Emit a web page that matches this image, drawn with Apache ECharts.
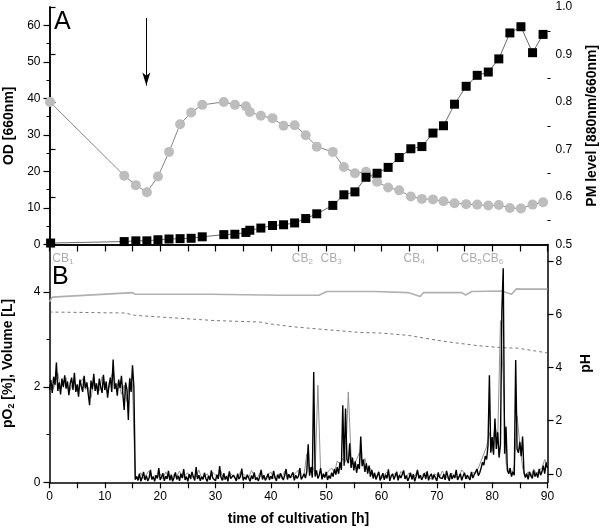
<!DOCTYPE html>
<html>
<head>
<meta charset="utf-8">
<script src="https://cdn.jsdelivr.net/npm/echarts@6/dist/echarts.min.js"></script>
<style>
html,body{margin:0;padding:0;background:#fff;}
#chart{width:600px;height:528px;}
</style>
</head>
<body>
<div id="chart"></div>
<script>
// ---------- Panel A: sampling times [h] ----------
const sampleTimes = [0.2,13.5,15.6,17.6,19.6,21.6,23.6,25.6,27.6,31.5,33.5,35.5,36.2,38.2,40.3,42.3,44.3,46.3,48.3,51.2,53.2,55.2,57.2,59.2,61.2,63.2,65.3,67.3,69.3,71.2,73.2,75.3,77.3,79.3,81.2,83.2,85.2,87.3,89.2];
const pmTimes = [0.1,13.5,15.6,17.6,19.6,21.6,23.6,25.6,27.6,31.5,33.5,35.5,36.2,38.2,40.3,42.3,44.3,46.3,48.3,51.2,53.2,55.2,57.2,59.2,61.2,63.2,65.3,67.3,69.3,71.2,73.2,75.3,77.3,79.3,81.2,83.2,85.2,87.3,89.2];
// OD [660nm]
const odValues = [0.4,0.8,1.0,1.0,1.3,1.5,1.6,1.7,2.1,2.7,2.8,3.3,3.9,4.5,5.2,5.4,5.9,7.1,8.4,10.7,13.6,14.4,18.4,19.5,21.1,23.8,26.2,26.8,30.5,32.5,38.4,43.3,46.3,47.2,50.8,57.9,59.6,52.5,57.5];
// PM level [880nm/660nm]
const pmValues = [0.800,0.645,0.625,0.610,0.643,0.695,0.753,0.778,0.794,0.800,0.794,0.791,0.779,0.771,0.766,0.750,0.751,0.730,0.706,0.695,0.663,0.650,0.653,0.632,0.620,0.614,0.601,0.596,0.595,0.591,0.587,0.585,0.584,0.582,0.583,0.577,0.576,0.584,0.589];
const arrowTime = 17.5;

// ---------- Panel B ----------
const phTimes = [0,0.5,15.0,15.5,29,41.6,48.7,50.1,58.8,64.8,67.0,67.6,74.5,75.2,76.3,81.7,83.5,84.4,85.3,90];
const phValues = [6.48,6.65,6.82,6.76,6.76,6.72,6.72,6.86,6.86,6.82,6.67,6.82,6.82,6.73,6.86,6.88,6.76,6.96,6.95,6.95];
const volTimes = [0,13.6,15.5,29.9,38,39.9,44,48.9,56.1,59.7,64.8,70.9,76.9,81.7,84.7,90];
const volValues = [3.58,3.56,3.51,3.40,3.37,3.33,3.27,3.22,3.15,3.14,3.09,2.97,2.88,2.83,2.82,2.72];

// pO2 logged every 0.25 h (black trace), from t = 0
const pO2StepBlack = 0.25;
const pO2Black = [
1.95,2.15,1.88,2.22, 2.05,2.52,1.92,2.10, 1.85,2.18,2.00,2.25, 1.97,2.12,1.83,2.08,
2.20,1.94,2.30,1.90, 2.06,1.80,2.16,2.02, 1.90,2.24,1.98,2.10, 1.86,1.62,2.14,1.96,
2.28,1.92,2.08,1.84, 2.18,2.00,1.88,2.26, 1.94,2.12,1.78,2.04, 2.20,1.90,2.58,1.96,
2.08,1.82,2.16,1.98, 2.24,1.87,1.52,2.10, 1.95,1.31,2.18,1.90, 2.46,2.00,0.06,0.12,
0.04,0.18,0.02,0.10, 0.22,0.05,0.14,0.03, 0.09,0.26,0.06,0.12, 0.02,0.15,0.08,0.30,
0.05,0.11,0.19,0.03, 0.13,0.07,0.24,0.04, 0.16,0.02,0.10,0.21, 0.06,0.14,0.03,0.18,
0.09,0.28,0.05,0.12, 0.02,0.17,0.08,0.22, 0.11,0.04,0.32,0.07, 0.15,0.03,0.12,0.06,
0.20,0.08,0.02,0.14, 0.05,0.25,0.09,0.13, 0.03,0.16,0.07,0.34, 0.10,0.04,0.19,0.06,
0.13,0.02,0.23,0.08, 0.05,0.15,0.10,0.03, 0.18,0.07,0.12,0.29, 0.04,0.11,0.06,0.16,
0.09,0.02,0.14,0.07, 0.21,0.05,0.10,0.03, 0.12,0.26,0.06,0.15, 0.04,0.09,0.18,0.05,
0.13,0.07,0.24,0.10, 0.03,0.16,0.08,0.19, 0.11,0.05,0.14,0.28, 0.06,0.17,0.09,0.12,
0.21,0.04,0.15,0.08, 0.13,0.30,0.06,0.11, 0.18,0.09,0.22,0.80, 0.14,0.32,0.10,2.32,
0.12,0.25,0.08,0.15, 0.30,0.06,0.18,0.10, 0.22,0.05,0.14,0.08, 0.20,0.12,0.28,0.16,
0.32,0.18,0.42,0.26, 1.62,0.35,1.55,0.48, 0.40,0.82,0.30,0.52, 0.25,0.44,0.20,0.38,
0.28,0.96,0.34,0.48, 0.22,0.40,0.18,0.35, 0.12,0.26,0.08,0.20, 0.06,0.14,0.22,0.04,
0.11,0.19,0.05,0.16, 0.08,0.27,0.03,0.13, 0.18,0.06,0.10,0.22, 0.04,0.15,0.09,0.12,
0.25,0.07,0.14,0.03, 0.10,0.20,0.06,0.17, 0.02,0.12,0.26,0.08, 0.15,0.05,0.11,0.19,
0.07,0.23,0.04,0.13, 0.18,0.06,0.16,0.09, 0.03,0.21,0.10,0.14, 0.08,0.17,0.05,0.24,
0.12,0.03,0.19,0.07, 0.15,0.09,0.26,0.05, 0.11,0.18,0.04,0.13, 0.20,0.07,0.15,0.10,
0.05,0.22,0.09,0.16, 0.12,0.28,0.14,0.20, 0.30,0.42,0.36,0.55, 0.48,0.78,2.25,0.62,
0.95,0.58,1.34,0.70, 1.05,0.52,0.80,3.60, 4.50,0.60,1.17,0.25, 0.18,0.30,0.12,0.22,
0.15,2.57,0.70,0.62, 0.85,0.55,0.96,0.20, 0.10,0.18,0.06,0.22, 0.14,0.08,0.25,0.12,
0.20,0.10,0.28,0.15, 0.22,0.35,0.18,0.42, 0.30
];
// second (grey) pO2 trace logged every 0.5 h
const pO2StepGrey = 0.5;
const pO2Grey = [
2.10,1.92, 2.05,2.30, 1.96,2.12, 2.20,1.88, 2.02,2.15, 1.90,2.08, 2.18,1.95, 2.00,1.78,
2.12,2.04, 1.93,2.22, 2.06,1.86, 2.14,2.36, 1.98,2.10, 1.85,2.04, 1.70,2.20, 2.05,0.05,
0.12,0.20, 0.08,0.16, 0.24,0.06, 0.14,0.10, 0.18,0.07, 0.22,0.12, 0.05,0.17, 0.13,0.24,
0.09,0.15, 0.20,0.06, 0.14,0.11, 0.26,0.08, 0.12,0.18, 0.07,0.21, 0.15,0.10, 0.23,0.05,
0.11,0.19, 0.16,0.08, 0.06,0.22, 0.18,0.12, 0.10,0.25, 0.14,0.07, 0.20,0.11, 0.09,0.16,
0.22,0.08, 0.13,0.18, 0.07,0.24, 0.17,0.10, 0.12,0.20, 0.26,0.09, 0.15,0.60, 0.20,0.35,
0.18,2.04, 0.22,0.12, 0.16,0.25, 0.30,0.20, 0.45,0.38, 0.50,0.42, 1.90,0.55, 0.36,0.48,
0.62,0.40, 0.50,0.28, 0.30,0.18, 0.12,0.20, 0.08,0.15, 0.22,0.10, 0.14,0.19, 0.07,0.23,
0.16,0.11, 0.20,0.08, 0.13,0.25, 0.09,0.17, 0.21,0.12, 0.06,0.18, 0.15,0.10, 0.24,0.13,
0.08,0.19, 0.17,0.11, 0.12,0.26, 0.19,0.07, 0.14,0.21, 0.18,0.30, 0.45,0.60, 0.75,1.05,
0.65,1.20, 0.90,3.40, 2.20,0.40, 0.25,0.15, 0.35,1.40, 0.80,0.30, 0.15,0.22, 0.12,0.28,
0.18,0.25, 0.30,0.48, 0.35
];
// cultivation events CB1..CB6 [h]
const cbNames = ['1','2','3','4','5','6'];
const cbTimes = [2.4,45.7,50.9,65.9,76.2,80.1];

// tick labels
const odTicks = [0,10,20,30,40,50,60];
const odMinor = [5,15,25,35,45,55];
const pmTicks = [0.5,0.6,0.7,0.8,0.9,1.0];
const pmMinor = [0.55,0.65,0.75,0.85,0.95];
const poTicks = [0,2,4];
const poMinor = [1,3];
const phTicks = [0,2,4,6,8];

// ---------- build ----------
const FONT = 'Liberation Sans, Arial, sans-serif';
const pair = (t, v) => t.map((x, i) => [x, v[i]]);
const stepPairs = (v, step) => v.map((y, i) => [i * step, y]);

const G0 = {left: 49.5, right: 52.5, top: 7, height: 237.5, containLabel: false, outerBoundsMode: 'none'};
const G1 = {left: 49.5, right: 52.5, top: 244.5, height: 237.8, containLabel: false, outerBoundsMode: 'none'};
const axLine = {show: true, lineStyle: {color: '#000', width: 1.5}};
const lbl = {color: '#000', fontSize: 12, fontFamily: FONT};

function minorAxis(extra, values, len) {
  return Object.assign({
    type: 'value', axisLine: {show: false}, splitLine: {show: false},
    axisLabel: {show: false},
    axisTick: {show: true, customValues: values, length: len, lineStyle: {color: '#000', width: 1}}
  }, extra);
}

const option = {
  animation: false,
  backgroundColor: '#fff',
  grid: [G0, G1],
  xAxis: [
    {gridIndex: 0, type: 'value', min: 0, max: 90, interval: 5, position: 'bottom',
     axisLine: axLine, axisLabel: {show: false},
     axisTick: {show: true, inside: false, length: 7, lineStyle: {color: '#000', width: 1.2}},
     splitLine: {show: false}},
    {gridIndex: 1, type: 'value', min: 0, max: 90, interval: 5, position: 'bottom',
     axisLine: axLine,
     axisTick: {show: true, inside: false, length: 6, lineStyle: {color: '#000', width: 1.2}},
     axisLabel: Object.assign({margin: 8, formatter: v => (v % 10 === 0 ? String(v) : '')}, lbl),
     splitLine: {show: false},
     name: 'time of cultivation [h]', nameLocation: 'middle', nameGap: 30,
     nameTextStyle: {fontSize: 14, fontWeight: 'bold', color: '#000', fontFamily: FONT}},
    {gridIndex: 0, type: 'value', min: 0, max: 90, position: 'top',
     axisLine: axLine, axisTick: {show: false}, axisLabel: {show: false}, splitLine: {show: false}}
  ],
  yAxis: [
    {gridIndex: 0, type: 'value', min: 0, max: 65, position: 'left',
     axisLine: axLine,
     axisTick: {show: true, customValues: odTicks, length: 6, lineStyle: {color: '#000', width: 1.2}},
     axisLabel: Object.assign({customValues: odTicks, margin: 9}, lbl),
     splitLine: {show: false},
     name: 'OD [660nm]', nameLocation: 'middle', nameGap: 33, nameRotate: 90,
     nameTextStyle: {fontSize: 14, fontWeight: 'bold', color: '#000', fontFamily: FONT}},
    {gridIndex: 0, type: 'value', min: 0.5, max: 1.0, position: 'right',
     axisLine: axLine,
     axisTick: {show: true, customValues: pmTicks, length: 6, lineStyle: {color: '#000', width: 1.2}},
     axisLabel: Object.assign({customValues: pmTicks, margin: 8, formatter: v => v.toFixed(1)}, lbl),
     splitLine: {show: false},
     name: 'PM level [880nm/660nm]', nameLocation: 'middle', nameGap: 38, nameRotate: 90,
     nameTextStyle: {fontSize: 14, fontWeight: 'bold', color: '#000', fontFamily: FONT}},
    {gridIndex: 1, type: 'value', min: 0, max: 5, position: 'left',
     axisLine: axLine,
     axisTick: {show: true, customValues: poTicks, length: 6, lineStyle: {color: '#000', width: 1.2}},
     axisLabel: Object.assign({customValues: poTicks, margin: 9}, lbl),
     splitLine: {show: false},
     name: '{b|pO}{s|2}{b| [%], Volume [L]}', nameLocation: 'middle', nameGap: 33, nameRotate: 90,
     nameTextStyle: {fontSize: 14, fontWeight: 'bold', color: '#000', fontFamily: FONT,
       rich: {b: {fontSize: 14, fontWeight: 'bold', fontFamily: FONT, color: '#000'},
              s: {fontSize: 9, fontWeight: 'bold', fontFamily: FONT, color: '#000', padding: [8, 0, 0, 0]}}}},
    {gridIndex: 1, type: 'value', min: -0.32, max: 8.63, position: 'right',
     axisLine: axLine,
     axisTick: {show: true, customValues: phTicks, length: 6, lineStyle: {color: '#000', width: 1.2}},
     axisLabel: Object.assign({customValues: phTicks, margin: 8}, lbl),
     splitLine: {show: false},
     name: 'pH', nameLocation: 'middle', nameGap: 32, nameRotate: 90,
     nameTextStyle: {fontSize: 14, fontWeight: 'bold', color: '#000', fontFamily: FONT}},
    minorAxis({gridIndex: 0, min: 0, max: 65, position: 'left'}, odMinor, 3),
    minorAxis({gridIndex: 0, min: 0.5, max: 1.0, position: 'right'}, pmMinor, 3),
    minorAxis({gridIndex: 1, min: 0, max: 5, position: 'left'}, poMinor, 3)
  ],
  series: [
    {type: 'line', name: 'PM', xAxisIndex: 0, yAxisIndex: 1, data: pair(pmTimes, pmValues),
     symbol: 'circle', symbolSize: 10, clip: false,
     itemStyle: {color: '#bdbdbd', borderWidth: 0},
     lineStyle: {color: '#666', width: 0.8}, z: 3},
    {type: 'line', name: 'OD', xAxisIndex: 0, yAxisIndex: 0, data: pair(sampleTimes, odValues),
     symbol: 'rect', symbolSize: 9, clip: false,
     itemStyle: {color: '#000', borderWidth: 0},
     lineStyle: {color: '#444', width: 0.8}, z: 4,
     markLine: {silent: true, symbol: ['none', 'arrow'], symbolSize: [6, 13],
       lineStyle: {color: '#000', width: 1, type: 'solid'}, label: {show: false},
       data: [[{coord: [arrowTime, 62]}, {coord: [arrowTime, 43.5]}]]}},
    {type: 'line', name: 'pH', xAxisIndex: 1, yAxisIndex: 3, data: pair(phTimes, phValues),
     symbol: 'none', lineStyle: {color: '#b0b0b0', width: 1.6}, z: 2},
    {type: 'line', name: 'Volume', xAxisIndex: 1, yAxisIndex: 2, data: pair(volTimes, volValues),
     symbol: 'none', lineStyle: {color: '#555', width: 0.8, type: [3, 3]}, z: 2},
    {type: 'line', name: 'pO2b', xAxisIndex: 1, yAxisIndex: 2, data: stepPairs(pO2Grey, pO2StepGrey),
     symbol: 'none', lineStyle: {color: '#909090', width: 1}, z: 3},
    {type: 'line', name: 'pO2', xAxisIndex: 1, yAxisIndex: 2, data: stepPairs(pO2Black, pO2StepBlack),
     symbol: 'none', lineStyle: {color: '#000', width: 1.4}, z: 4},
    {type: 'scatter', name: 'CB', xAxisIndex: 1, yAxisIndex: 2, symbolSize: 0, z: 5,
     data: cbTimes.map((t, i) => ({value: [t, 4.71], name: cbNames[i]})),
     label: {show: true, position: 'inside', formatter: p => '{c|CB}{s|' + p.name + '}',
       rich: {c: {fontSize: 12, color: '#999', fontFamily: FONT},
              s: {fontSize: 8, color: '#999', fontFamily: FONT, padding: [7, 0, 0, 0]}}}}
  ],
  graphic: [
    {type: 'text', left: 54, top: 10, style: {text: 'A', fontSize: 25, fontFamily: FONT, fill: '#000'}},
    {type: 'text', left: 52, top: 265, style: {text: 'B', fontSize: 25, fontFamily: FONT, fill: '#000'}}
  ]
};

const chart = echarts.init(document.getElementById('chart'), null, {renderer: 'canvas'});
chart.setOption(option);
</script>
</body>
</html>
